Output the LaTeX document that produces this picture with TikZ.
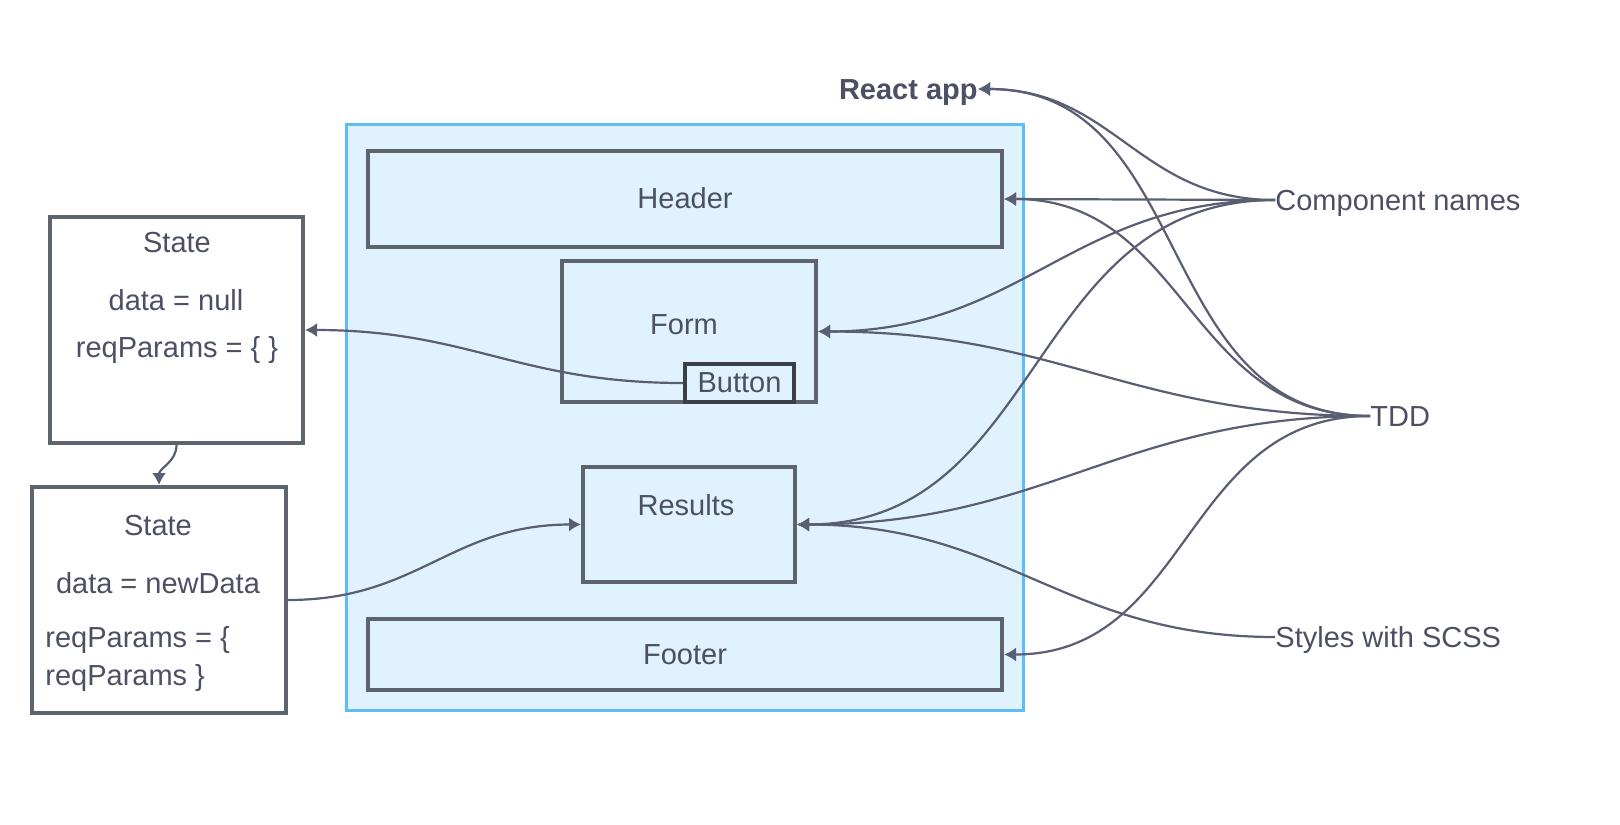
\documentclass[tikz,border=0pt]{standalone}
\usepackage{fontspec}
\setmainfont{Liberation Sans}
\usetikzlibrary{positioning}
\usetikzlibrary{arrows.meta}
\definecolor{ink}{HTML}{4B5064}
\definecolor{boxline}{HTML}{5D646E}
\definecolor{btnline}{HTML}{3A3F45}
\definecolor{wire}{HTML}{595E73}
\definecolor{appline}{HTML}{5BBEF5}
\definecolor{appfill}{HTML}{E0F2FD}
\begin{document}
\begin{tikzpicture}[x=0.5pt,y=-0.5pt,
font=\fontsize{14.5}{17}\selectfont, text=ink,
framenode/.style={rectangle, draw=appline, fill=appfill, line width=1.5pt, inner sep=0pt},
compnode/.style={rectangle, draw=boxline, line width=2pt, inner sep=0pt},
statenode/.style={rectangle, draw=boxline, line width=2pt, fill=white, inner sep=0pt},
textnode/.style={inner sep=0pt, text height=10pt, text depth=0pt},
edge/.style={->,> = {Latex[length=6pt,width=7pt]}, draw=wire, line width=1.1pt},
curve/.style={out=180,in=0,looseness=1.1}
]
\useasboundingbox (0,0) rectangle (1620,824);

%Nodes
\node[framenode, minimum width=338.5pt, minimum height=293pt] (frame) at (684.5,417) {};
\node[compnode, minimum width=317pt, minimum height=48pt, text height=10pt] (header) at (685,199) {Header};
\node[compnode, minimum width=127pt, minimum height=70.5pt] (form) at (689,331.5) {};
\node[compnode, draw=btnline, fill=appfill, minimum width=54.5pt, minimum height=19pt, text height=10pt] (button) at (739.5,383) {Button};
\node[compnode, minimum width=106pt, minimum height=57.5pt] (results) at (689,524.5) {};
\node[compnode, minimum width=317pt, minimum height=35.5pt, text height=10pt] (footer) at (685,654.5) {Footer};
\node[statenode, minimum width=126.5pt, minimum height=113pt] (state) at (176.5,330) {};
\node[statenode, minimum width=127pt, minimum height=113pt] (newstate) at (159,600) {};
%Node Texts
\node[textnode] (formtext) at (684,324) {Form};
\node[textnode] (resultstext) at (686,505) {Results};
\node[textnode] (statetitle) at (177,242) {State};
\node[textnode] (statedata) at (176,300) {data = null};
\node[textnode] (stateparams) at (177,347) {reqParams = \{ \}};
\node[textnode] (newstatetitle) at (158,525) {State};
\node[textnode] (newstatedata) at (158,583) {data = newData};
\node[textnode, anchor=west] (newstateparams) at (45,637) {reqParams = \{};
\node[textnode, anchor=west] (newstateparamsend) at (45,675) {reqParams \}};
\node[textnode, anchor=east, font=\fontsize{14.5}{17}\selectfont\bfseries] (app) at (978,89) {React app};
\node[textnode, anchor=west] (names) at (1275,200) {Component names};
\node[textnode, anchor=west] (tdd) at (1370,416) {TDD};
\node[textnode, anchor=west] (scss) at (1275,637) {Styles with SCSS};

%Edges
\draw[edge] (button.west) to[curve] (state.east);
\draw[edge] (state.south) to[out=-90,in=90] (newstate.north);
\draw[edge] (newstate.east) to[out=0,in=180,looseness=1.1] (results.west);
\draw[edge] (names.west) to[curve] (app.east);
\draw[edge] (names.west) -- (header.east);
\draw[edge] (names.west) to[curve] (form.east);
\draw[edge] (names.west) to[curve] (results.east);
\foreach \target in {app,header,form,results,footer}
  \draw[edge] (tdd.west) to[curve] (\target.east);
\draw[edge] (scss.west) to[curve] (results.east);
\end{tikzpicture}
\end{document}
